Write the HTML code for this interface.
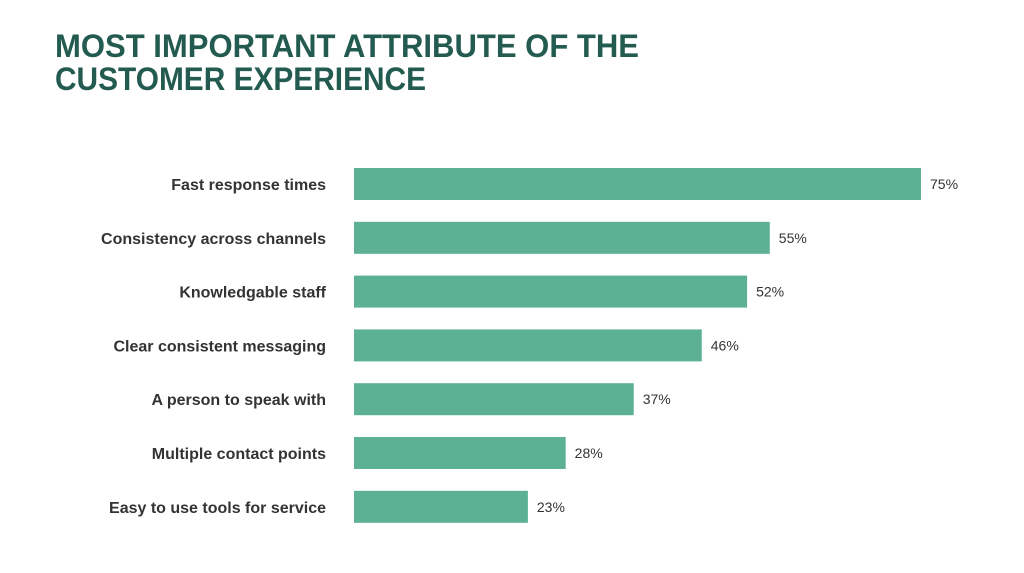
<!DOCTYPE html>
<html><head><meta charset="utf-8"><style>
html,body{margin:0;padding:0;background:#fff;}
svg{display:block;font-family:"Liberation Sans",sans-serif;}
</style></head><body>
<svg id="chart" width="1024" height="573" viewBox="0 0 1024 573">
<text x="55" y="57" font-size="32" font-weight="bold" fill="#235b50" textLength="584" lengthAdjust="spacingAndGlyphs">MOST IMPORTANT ATTRIBUTE OF THE</text>
<text x="55" y="90" font-size="32" font-weight="bold" fill="#235b50" textLength="371" lengthAdjust="spacingAndGlyphs">CUSTOMER EXPERIENCE</text>
<g id="bars"></g>
</svg>
<script>
const categories = ["Fast response times","Consistency across channels","Knowledgable staff","Clear consistent messaging","A person to speak with","Multiple contact points","Easy to use tools for service"];
const values = [75,55,52,46,37,28,23];
const valueLabels = ["75%","55%","52%","46%","37%","28%","23%"];
const x0 = 354, pxPer = 7.56, top0 = 168, step = 53.8, bh = 32;
const xs = v => x0 + v * pxPer;
const ys = i => top0 + i * step;
const g = document.getElementById('bars');
const NS = "http://www.w3.org/2000/svg";
categories.forEach((c, i) => {
  const r = document.createElementNS(NS, 'rect');
  
  
  r.setAttribute('x', x0); r.setAttribute('y', ys(i));
  r.setAttribute('width', xs(values[i]) - x0); r.setAttribute('height', bh);
  r.setAttribute('fill', '#5cb195');
  g.appendChild(r);
  const t = document.createElementNS(NS, 'text');
  
  
  t.setAttribute('x', 326); t.setAttribute('y', ys(i) + bh / 2 + 6);
  t.setAttribute('text-anchor', 'end'); t.setAttribute('font-size', '16');
  t.setAttribute('font-weight', 'bold'); t.setAttribute('fill', '#333');
  t.textContent = c;
  g.appendChild(t);
  const v = document.createElementNS(NS, 'text');
  
  
  v.setAttribute('x', xs(values[i]) + 9); v.setAttribute('y', ys(i) + bh / 2 + 5);
  v.setAttribute('font-size', '14'); v.setAttribute('fill', '#333');
  v.textContent = valueLabels[i];
  g.appendChild(v);
});
</script>
</body></html>
